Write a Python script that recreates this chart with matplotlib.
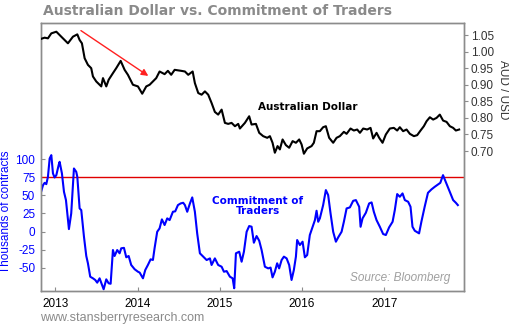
import matplotlib
matplotlib.use('Agg')
from matplotlib import pyplot as plt


# AUD / USD, weekly-ish readings (decimal year, rate)
aud_years = [
    2012.822, 2012.871, 2012.911, 2012.952, 2013.013, 2013.073, 2013.154, 2013.215, 2013.268, 2013.296,
    2013.324, 2013.357, 2013.397, 2013.437, 2013.458, 2013.498, 2013.559, 2013.580, 2013.620, 2013.649,
    2013.701, 2013.741, 2013.795, 2013.843, 2013.883, 2013.944, 2014.005, 2014.057, 2014.106, 2014.147,
    2014.187, 2014.227, 2014.268, 2014.329, 2014.369, 2014.409, 2014.451, 2014.531,
    2014.576, 2014.616, 2014.670, 2014.697, 2014.738, 2014.779, 2014.819, 2014.859, 2014.900, 2014.940,
    2014.980, 2015.022, 2015.062, 2015.102, 2015.143, 2015.184, 2015.224, 2015.244, 2015.305, 2015.357,
    2015.386, 2015.439, 2015.479, 2015.527, 2015.576, 2015.609, 2015.641, 2015.669, 2015.702, 2015.730,
    2015.763, 2015.803, 2015.843, 2015.885, 2015.925, 2015.965, 2015.994, 2016.022, 2016.062, 2016.115,
    2016.143, 2016.176,
    2016.216, 2016.256, 2016.289, 2016.329, 2016.378, 2016.419, 2016.459, 2016.508, 2016.541, 2016.589,
    2016.629, 2016.670, 2016.703, 2016.743, 2016.791, 2016.832, 2016.864, 2016.905, 2016.937, 2016.978,
    2017.018, 2017.067, 2017.115, 2017.156, 2017.188, 2017.228, 2017.270, 2017.310, 2017.359, 2017.399,
    2017.440, 2017.480, 2017.513, 2017.553, 2017.593, 2017.634, 2017.674, 2017.714, 2017.756, 2017.796,
    2017.836, 2017.869, 2017.909,
]
aud_values = [
    1.038, 1.042, 1.040, 1.055, 1.060, 1.045, 1.025, 1.045, 1.052, 1.035,
    1.025, 0.980, 0.960, 0.950, 0.925, 0.910, 0.895, 0.920, 0.895, 0.915,
    0.935, 0.950, 0.972, 0.945, 0.930, 0.900, 0.895, 0.873, 0.895, 0.900,
    0.910, 0.920, 0.940, 0.932, 0.942, 0.930, 0.945, 0.942,
    0.940, 0.930, 0.940, 0.905, 0.875, 0.870, 0.880, 0.870, 0.845, 0.818,
    0.810, 0.825, 0.785, 0.782, 0.785, 0.775, 0.782, 0.768, 0.785, 0.805,
    0.780, 0.782, 0.755, 0.745, 0.740, 0.745, 0.725, 0.695, 0.715, 0.705,
    0.735, 0.718, 0.710, 0.730, 0.725, 0.735, 0.720, 0.692, 0.708, 0.715,
    0.725, 0.760,
    0.760, 0.772, 0.775, 0.740, 0.725, 0.740, 0.745, 0.758, 0.752, 0.768,
    0.762, 0.765, 0.755, 0.768, 0.765, 0.770, 0.738, 0.755, 0.740, 0.725,
    0.750, 0.768, 0.770, 0.762, 0.772, 0.760, 0.765, 0.752, 0.745, 0.748,
    0.762, 0.775, 0.790, 0.802, 0.795, 0.800, 0.810, 0.792, 0.788, 0.775,
    0.770, 0.762, 0.765,
]

# net speculative positions, thousands of contracts
cot_years = [
    2012.822, 2012.851, 2012.871, 2012.891, 2012.911, 2012.932, 2012.952, 2012.972, 2012.992, 2013.013,
    2013.041, 2013.053, 2013.081, 2013.106, 2013.130, 2013.166, 2013.194, 2013.227, 2013.255, 2013.268,
    2013.296, 2013.316, 2013.349, 2013.377, 2013.397, 2013.425, 2013.458, 2013.486, 2013.510, 2013.539,
    2013.559, 2013.588, 2013.620, 2013.649, 2013.673, 2013.701, 2013.721, 2013.753, 2013.782, 2013.802,
    2013.835, 2013.863, 2013.892, 2013.923, 2013.965, 2014.005, 2014.026, 2014.066, 2014.094, 2014.126,
    2014.159, 2014.187, 2014.207, 2014.239, 2014.268, 2014.296, 2014.329, 2014.361, 2014.390, 2014.430,
    2014.458, 2014.491, 2014.524,
    2014.555, 2014.576, 2014.604, 2014.637, 2014.665, 2014.697, 2014.725, 2014.758, 2014.798, 2014.840,
    2014.880, 2014.900, 2014.940, 2014.980, 2015.022, 2015.050, 2015.083, 2015.123, 2015.156, 2015.175,
    2015.196, 2015.236, 2015.265, 2015.293, 2015.326, 2015.357, 2015.386, 2015.414, 2015.447, 2015.479,
    2015.508, 2015.548, 2015.588, 2015.617, 2015.641, 2015.669, 2015.697, 2015.721, 2015.751, 2015.779,
    2015.812, 2015.843, 2015.872, 2015.900, 2015.925, 2015.940, 2015.973, 2016.006, 2016.034, 2016.062,
    2016.094, 2016.128, 2016.156, 2016.176, 2016.196,
    2016.216, 2016.256, 2016.289, 2016.317, 2016.346, 2016.378, 2016.411, 2016.439, 2016.480, 2016.508,
    2016.541, 2016.581, 2016.621, 2016.654, 2016.694, 2016.711, 2016.735, 2016.775, 2016.815, 2016.845,
    2016.872, 2016.905, 2016.945, 2016.985, 2017.018, 2017.058, 2017.100, 2017.127, 2017.156, 2017.188,
    2017.221, 2017.249, 2017.289, 2017.318, 2017.342, 2017.370, 2017.422, 2017.450, 2017.490, 2017.530,
    2017.572, 2017.612, 2017.640, 2017.680, 2017.713, 2017.746, 2017.796, 2017.836, 2017.869, 2017.893,
]
cot_values = [
    52.6, 64.0, 67.2, 65.4, 75.5, 100.8, 105.4, 80.2, 74.6, 77.8,
    91.6, 96.2, 80.2, 54.8, 43.4, 3.4, 25.0, 87.0, 82.4, 75.5,
    31.9, 29.6, -7.2, -33.7, -43.8, -62.3, -64.5, -66.8, -70.5, -64.5,
    -70.5, -79.6, -65.9, -71.4, -72.0, -25.5, -33.7, -25.5, -30.0, -23.1,
    -22.5, -35.5, -33.7, -46.1, -52.0, -55.4, -56.6, -64.5, -53.0, -46.1,
    -38.3, -39.2, -23.1, -0.3, 4.4, 16.8, 9.0, 18.2, 15.8, 27.3,
    27.9, 36.5, 38.8,
    39.7, 36.5, 27.3, 38.8, 47.1, 27.3, -2.5, -30.0, -34.6, -39.3,
    -37.0, -46.1, -37.0, -46.1, -48.5, -55.4, -54.5, -62.3, -64.5, -78.2,
    -30.0, -27.8, -41.6, -27.8, -0.3, 7.6, 6.7, -15.4, -6.2, -12.7,
    -25.5, -48.5, -50.8, -49.7, -63.2, -55.4, -43.8, -50.8, -39.3, -34.6,
    -37.0, -46.1, -66.8, -53.0, -34.6, -11.7, -18.6, -14.0, -35.5, -32.4,
    -4.8, 6.6, 15.8, 28.7, 13.5,
    18.2, 36.5, 57.2, 50.3, 25.0, -0.3, -14.0, -8.0, -0.3, 13.5,
    31.9, 33.3, 42.4, 43.4, 34.2, 6.6, 18.2, 25.9, 38.8, 40.2,
    27.3, 15.8, 6.6, -3.4, -4.8, 5.8, 13.5, 29.6, 51.7, 48.0,
    52.6, 43.4, 41.1, 34.2, 6.6, 1.1, -2.5, 13.5, 34.2, 53.4,
    58.1, 61.7, 64.0, 67.2, 77.8, 68.6, 54.8, 43.4, 39.7, 36.5,
]

year_ticks = [2013, 2014, 2015, 2016, 2017]
cot_ticks = [-50, -25, 0, 25, 50, 75, 100]
aud_ticks = [0.70, 0.75, 0.80, 0.85, 0.90, 0.95, 1.00, 1.05]
cot_threshold = 75

FRAME = '#8c8c8c'
BLUE = '#0000ff'
GREY_TEXT = '#8a8a8a'
ARIAL = 'Liberation Sans'


def draw(path):
    plt.rcParams['font.family'] = [ARIAL, 'DejaVu Sans']
    plt.rcParams['axes.unicode_minus'] = False
    fig = plt.figure(figsize=(5.1, 3.25), dpi=100)
    ax = fig.add_axes([0.0798, 0.1046, 0.8300, 0.8254])
    ax2 = ax.twinx()

    # commitment of traders on the left scale
    ax.plot(cot_years, cot_values, color=BLUE, lw=1.5, zorder=3)
    ax.axhline(cot_threshold, color='#e00000', lw=1.0, zorder=2)
    ax.set_ylim(-82, 288)
    ax.set_yticks(cot_ticks)
    ax.tick_params(axis='y', direction='in', length=3, colors=FRAME, labelcolor=BLUE,
                   labelsize=8.5, pad=4)
    ax.set_ylabel('Thousands of contracts', color=BLUE, fontsize=8.5)
    ax.yaxis.set_label_coords(-0.068, 0.295)

    ax.set_xlim(2012.823, 2017.968)
    ax.set_xticks(year_ticks)
    ax.set_xticklabels([str(y) for y in year_ticks])
    ax.tick_params(axis='x', direction='in', length=3, colors=FRAME, labelcolor='black',
                   labelsize=8.5, pad=5)

    # australian dollar on the right scale
    ax2.plot(aud_years, aud_values, color='black', lw=1.5, zorder=3)
    ax2.set_ylim(0.278, 1.087)
    ax2.set_yticks(aud_ticks)
    ax2.set_yticklabels(['%.2f' % v for v in aud_ticks])
    ax2.tick_params(axis='y', direction='out', length=3, colors=FRAME, labelcolor='#333333',
                    labelsize=8.5, pad=2)
    fig.text(503 / 510, 1 - 90 / 325, 'AUD / USD', rotation=-90, color='#333333',
             fontsize=8.5, ha='center', va='center')

    ax2.annotate('', xy=(2014.159, 0.922), xytext=(2013.284, 1.068),
                 arrowprops=dict(arrowstyle='-|>', color='#ff2020', lw=1.0, mutation_scale=10))

    for a in (ax, ax2):
        for s in a.spines.values():
            s.set_color(FRAME)
            s.set_linewidth(1.0)

    bold = ['DejaVu Sans']
    ax2.text(0.631, 0.686, 'Australian Dollar', transform=ax.transAxes, fontsize=7.5,
             fontweight='bold', family=bold, color='black', ha='center', va='center')
    ax2.text(0.513, 0.317, 'Commitment of\nTraders', transform=ax.transAxes, fontsize=7.5,
             fontweight='bold', family=bold, color=BLUE, ha='center', va='center',
             linespacing=1.1)
    ax2.text(0.968, 0.025, 'Source: Bloomberg', transform=ax.transAxes, fontsize=8.5,
             style='italic', color='#a0a0a0', ha='right', va='bottom')

    fig.text(0.084, 0.966, 'Australian Dollar vs. Commitment of Traders', fontsize=10,
             fontweight='bold', family=bold, color=GREY_TEXT, ha='left', va='center')
    fig.text(0.078, 0.023, 'www.stansberryresearch.com', fontsize=9, color=GREY_TEXT,
             ha='left', va='center')

    fig.savefig(path, dpi=100)


def main():
    draw('out.png')


main()
